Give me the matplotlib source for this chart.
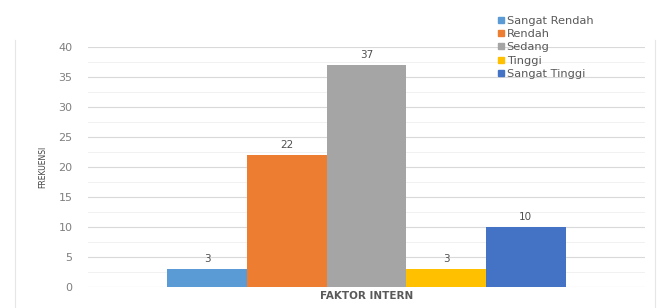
import numpy as np
import matplotlib
matplotlib.use("Agg")
import matplotlib.pyplot as plt
from matplotlib.lines import Line2D

categories = ["FAKTOR INTERN"]
series_names = ["Sangat Rendah", "Rendah", "Sedang", "Tinggi", "Sangat Tinggi"]
series_values = [3, 22, 37, 3, 10]
series_colors = ["#5B9BD5", "#ED7D31", "#A5A5A5", "#FFC000", "#4472C4"]
y_ticks = [0, 5, 10, 15, 20, 25, 30, 35, 40]

plt.rcParams['font.family'] = ['DejaVu Sans']

fig = plt.figure(figsize=(6.65, 3.08), dpi=100)
ax = fig.add_axes([0.132, 0.068, 0.838, 0.779])

w = 0.143
n = len(series_names)
for i, (name, val, col) in enumerate(zip(series_names, series_values, series_colors)):
    x = (i - (n - 1) / 2) * w
    ax.bar(x, val, width=w, color=col, label=name, zorder=3)
    ax.annotate(str(val), (x, val), xytext=(0, 4), textcoords="offset points",
                ha="center", va="bottom", fontsize=7.5, color="#505050")

ax.set_xlim(-0.5, 0.5)
ax.set_ylim(0, 40)
ax.set_yticks(y_ticks)
ax.set_yticks(np.arange(0, 40, 2.5), minor=True)
ax.set_xticks([])
ax.grid(axis="y", which="major", color="#D9D9D9", linewidth=0.8, zorder=0)
ax.grid(axis="y", which="minor", color="#EFEFEF", linewidth=0.6, zorder=0)
for s in ax.spines.values():
    s.set_visible(False)
ax.tick_params(axis="y", which="both", length=0, labelsize=8, labelcolor="#7F7F7F", pad=11)

ax.set_xlabel(categories[0], fontsize=7.5, color="#595959", fontweight="bold", labelpad=3)
ax.set_ylabel("FREKUENSI", fontsize=5.5, color="#404040", labelpad=8)

handles = [Line2D([], [], marker="s", linestyle="", markersize=4.5, color=c) for c in series_colors]
fig.legend(handles, series_names, loc="upper left", bbox_to_anchor=(0.738, 0.968),
           frameon=False, fontsize=8.2, labelcolor="#595959", handletextpad=0.1,
           labelspacing=0.3, borderpad=0.0, handlelength=0.8)

# faint frame lines of the original screenshot
fig.add_artist(Line2D([0.022, 0.022], [0.0, 0.87], transform=fig.transFigure, color="#E6E6E6", linewidth=0.8))
fig.add_artist(Line2D([0.985, 0.985], [0.0, 0.87], transform=fig.transFigure, color="#E6E6E6", linewidth=0.8))

fig.savefig("out.png", dpi=100)
